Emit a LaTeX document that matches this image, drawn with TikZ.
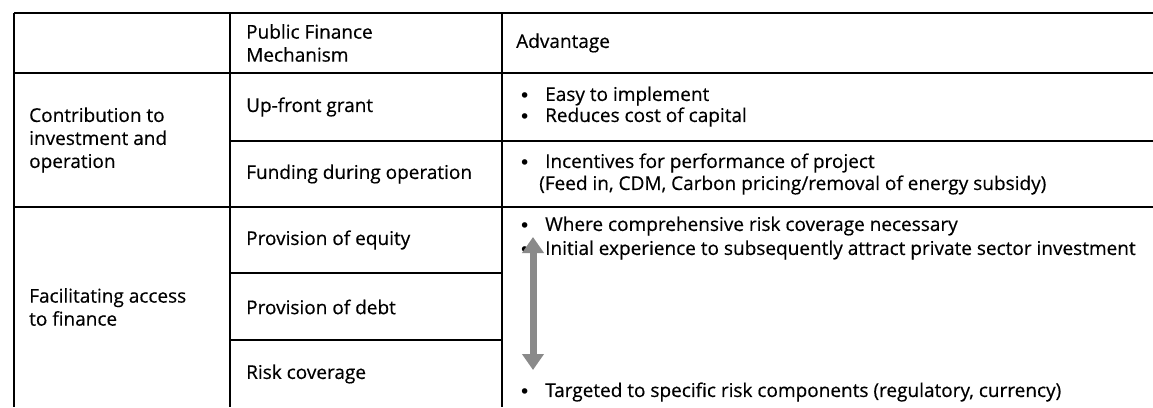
\documentclass[tikz,border=0pt]{standalone}
\usepackage{fontspec}
\setmainfont{Open Sans}
\newfontfamily\bulletfont{DejaVu Sans}
\newcommand{\tabfont}{\fontsize{19}{23}\selectfont\addfontfeature{FakeBold=0.4}}
\usetikzlibrary{arrows.meta}
\definecolor{arrgray}{HTML}{8A8A8A}
\tikzset{
  rule/.style={line width=1.8pt, black},
  txt/.style={anchor=west, inner sep=0pt, font=\tabfont, align=left},
  bul/.style={anchor=west, inner sep=0pt, font=\tabfont},
  twoway/.style={line width=7pt, arrgray, {Triangle[width=21pt,length=16pt]}-{Triangle[width=21pt,length=16pt]}}
}
\newcommand{\bl}{\makebox[26pt][l]{\raisebox{-1.5pt}{\bulletfont\fontsize{19}{20}\selectfont •}}}
\begin{document}
\begin{tikzpicture}[x=1pt,y=-1pt]
\useasboundingbox (0,0) rectangle (1153,407);
% horizontal rules
\draw[rule] (14,13) -- (1153,13);
\draw[rule] (14,73) -- (1153,73);
\draw[rule] (230,141) -- (1153,141);
\draw[rule] (14,207) -- (1153,207);
\draw[rule] (230,273) -- (502,273);
\draw[rule] (230,340) -- (502,340);
% vertical rules
\draw[rule] (14,13) -- (14,407);
\draw[rule] (230,13) -- (230,407);
\draw[rule] (502,13) -- (502,407);
% header
\node[txt] (hmech) at (246,43) {Public Finance\\Mechanism};
\node[txt] (hadv) at (516,43) {Advantage};
% group 1
\node[txt] (g1) at (29,140) {Contribution to\\investment and\\operation};
\node[txt] (m1) at (246,107) {Up-front grant};
\node[txt] (m2) at (246,174) {Funding during operation};
\node[bul] (a1) at (519,96) {\bl Easy to implement};
\node[bul] (a2) at (519,117) {\bl Reduces cost of capital};
\node[bul] (a3) at (519,163) {\bl Incentives for performance of project};
\node[bul] (a4) at (539,185) {(Feed in, CDM, Carbon pricing/removal of energy subsidy)};
% group 2
\node[txt] (g2) at (29,307) {Facilitating access\\to finance};
\node[txt] (m3) at (246,240) {Provision of equity};
\node[txt] (m4) at (246,307) {Provision of debt};
\node[txt] (m5) at (246,374) {Risk coverage};
\node[bul] (a5) at (519,226) {\bl Where comprehensive risk coverage necessary};
\node[bul] (a6) at (519,250) {\bl Initial experience to subsequently attract private sector investment};
\node[bul] (a7) at (519,392) {\bl Targeted to specific risk components (regulatory, currency)};
% arrow
\coordinate (atop) at (533,237);
\coordinate (abot) at (533,370);
\draw[twoway] (atop) -- (abot);
\end{tikzpicture}
\end{document}
